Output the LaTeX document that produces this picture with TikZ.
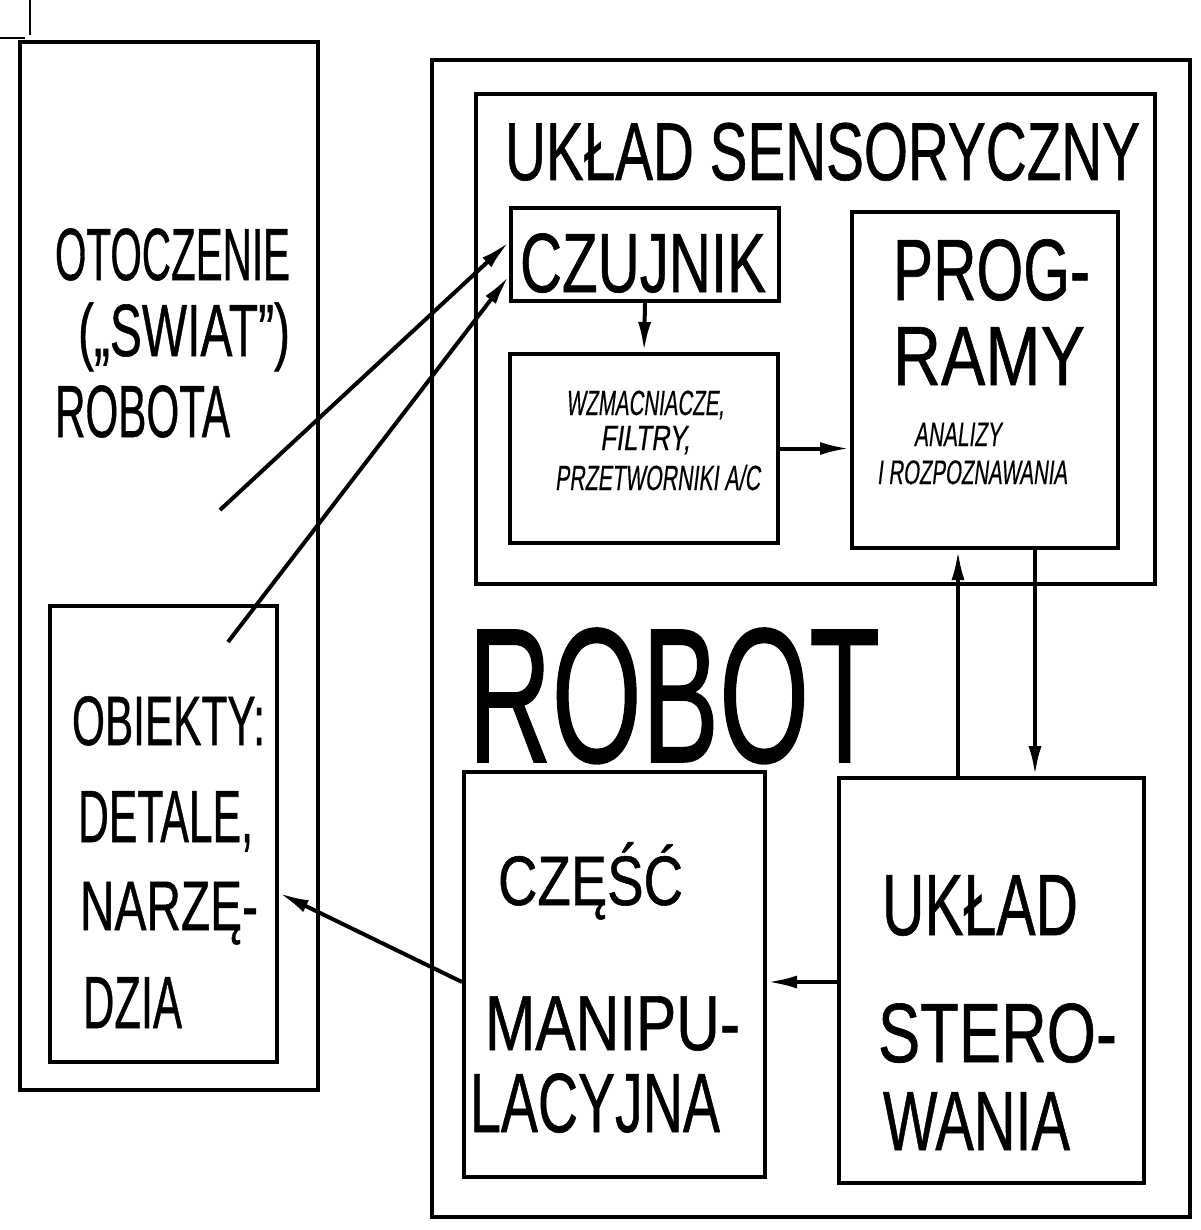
\documentclass[tikz,border=0pt]{standalone}
\usepackage{fontspec}
\usepackage{graphicx}
\setmainfont{Liberation Sans}[FakeBold=0.8]
\newfontfamily\slfont{Liberation Sans}[FakeSlant=0.2,FakeBold=0.5]
\usetikzlibrary{arrows.meta,calc,fit}
\newcommand\fw[2]{\resizebox{#1}{\height}{#2}}
\newcommand\fs[1]{\fontsize{#1}{#1}\selectfont}
\begin{document}
\begin{tikzpicture}[x=0.5pt,y=-0.5pt,
  box/.style={draw, line width=2pt, inner sep=0pt},
  arr/.style={line width=2pt, -{Latex[length=15pt,width=6.5pt]}},
  lbl/.style={anchor=base west, inner sep=0pt, outer sep=0pt}]
\useasboundingbox (0,0) rectangle (1200,1230);
% crop marks
\draw[line width=0.8pt] (30,0) -- (30,35);
\draw[line width=0.8pt] (0,38) -- (25,38);
% boxes
\node[box, fit={(20,42) (318,1090)}] (env) {};
\node[box, fit={(50,606) (277,1062)}] (obj) {};
\node[box, fit={(432,60) (1190,1217)}] (robot) {};
\node[box, fit={(476,94) (1155,584)}] (sens) {};
\node[box, fit={(511,208) (779,301)}] (czuj) {};
\node[box, fit={(510,354) (778,543)}] (wzm) {};
\node[box, fit={(852,212) (1118,548)}] (prog) {};
\node[box, fit={(464,772) (765,1177)}] (manip) {};
\node[box, fit={(839,778) (1144,1183)}] (ster) {};
% texts
\node[lbl] (t1) at (55,280) {\fs{37}\fw{117.5pt}{OTOCZENIE}};
\node[lbl] (t2) at (78,356) {\fs{37}\fw{106pt}{(„SWIAT”)}};
\node[lbl] (t3) at (55,437) {\fs{37}\fw{87.5pt}{ROBOTA}};
\node[lbl] (t4) at (505,180) {\fs{41}\fw{317.5pt}{UKŁAD SENSORYCZNY}};
\node[lbl] (t5) at (520,292) {\fs{42}\fw{123pt}{CZUJNIK}};
\node[lbl] (t6) at (893,300) {\fs{43.5}\fw{98.5pt}{PROG-}};
\node[lbl] (t7) at (893,385) {\fs{42}\fw{96pt}{RAMY}};
\node[lbl] (t8) at (566,415) {\slfont\fs{17.5}\fw{79pt}{WZMACNIACZE,}};
\node[lbl] (t9) at (600,450) {\slfont\fs{17.5}\fw{45pt}{FILTRY,}};
\node[lbl] (t10) at (555,490) {\slfont\fs{17.5}\fw{102.5pt}{PRZETWORNIKI A/C}};
\node[lbl] (t11) at (914,446) {\slfont\fs{17}\fw{43.5pt}{ANALIZY}};
\node[lbl] (t12) at (877,484) {\slfont\fs{17}\fw{95pt}{I ROZPOZNAWANIA}};
\node[lbl] (t13) at (468,762) {\fs{96}\fw{206pt}{ROBOT}};
\node[lbl] (t14) at (498,905) {\fs{35}\fw{92.5pt}{CZĘŚĆ}};
\node[lbl] (t15) at (485,1050) {\fs{39}\fw{127.5pt}{MANIPU-}};
\node[lbl] (t16) at (470,1132) {\fs{42}\fw{125pt}{LACYJNA}};
\node[lbl] (t17) at (882,935) {\fs{43.5}\fw{98pt}{UKŁAD}};
\node[lbl] (t18) at (878,1062) {\fs{42}\fw{119.5pt}{STERO-}};
\node[lbl] (t19) at (883,1150) {\fs{42}\fw{93.5pt}{WANIA}};
\node[lbl] (t20) at (72,745) {\fs{35}\fw{96.5pt}{OBIEKTY:}};
\node[lbl] (t21) at (78,842) {\fs{37}\fw{87.5pt}{DETALE,}};
\node[lbl] (t22) at (80,930) {\fs{35}\fw{89pt}{NARZĘ-}};
\node[lbl] (t23) at (83,1028) {\fs{37}\fw{49.5pt}{DZIA}};
% connectors
\coordinate (s1) at (220,510);
\coordinate (s2) at (228,642);
\coordinate (xa) at (958,0);
\coordinate (xb) at (1035,0);
\coordinate (ya) at (0,242);
\coordinate (yb) at (0,276);
\coordinate (yc) at (0,982);
\coordinate (yd) at (0,893);
\draw[arr] (s1) -- (czuj.west |- ya);
\draw[arr] (s2) -- (czuj.west |- yb);
\draw[arr] (czuj.south) -- (wzm.north);
\draw[arr] (wzm.east) -- (wzm.east -| prog.west);
\draw[arr] (ster.north -| xa) -- (prog.south -| xa);
\draw[arr] (prog.south -| xb) -- (ster.north -| xb);
\draw[arr] (ster.west |- yc) -- (manip.east |- yc);
\draw[arr] (manip.west |- yc) -- (obj.east |- yd);
\end{tikzpicture}
\end{document}
